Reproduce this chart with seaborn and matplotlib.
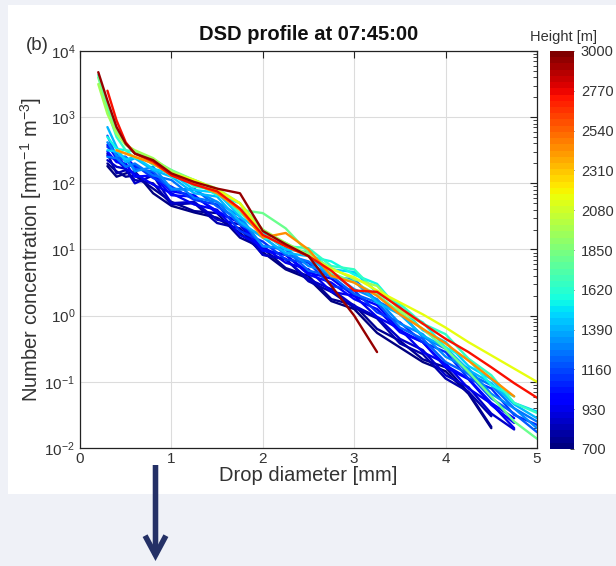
import numpy as np
import pandas as pd
import matplotlib
matplotlib.use("Agg")
import matplotlib.pyplot as plt
from matplotlib.patches import Rectangle, FancyArrowPatch
from matplotlib.colors import Normalize
from matplotlib.cm import ScalarMappable
from matplotlib.ticker import LogLocator
import seaborn as sns

NA = np.nan

# Drop diameter grid [mm]
diameter = [0.2, 0.3, 0.4, 0.5, 0.6, 0.8, 1.0, 1.25, 1.5, 1.75, 2.0, 2.25,
            2.5, 2.75, 3.0, 3.25, 3.5, 3.75, 4.0, 4.25, 4.5, 4.75, 5.0]

# log10 of number concentration [mm^-1 m^-3] for each height level [m]
n_2950 = [3.68, 3.25, 2.85, 2.60, 2.45, 2.35, 2.15, 2.02, 1.92, 1.85, 1.28, 1.08,
          0.90, 0.45, 0.00, -0.55, NA, NA, NA, NA, NA, NA, NA]
n_2750 = [NA, 3.40, 2.95, 2.62, 2.45, 2.33, 2.12, 1.98, 1.88, 1.62, 1.22, 1.05,
          0.90, 0.68, 0.38, 0.36, 0.12, -0.12, -0.35, -0.55, -0.78, -1.02, -1.24]
n_2450 = [NA, NA, 2.50, 2.45, 2.40, 2.30, 2.12, 2.00, 1.85, 1.60, 1.18, 1.25,
          1.00, 0.60, 0.50, 0.30, 0.02, -0.20, -0.42, -0.68, -0.95, -1.22, NA]
n_2150 = [NA, NA, 2.50, 2.45, 2.40, 2.32, 2.15, 2.05, 1.90, 1.70, 1.22, 1.05,
          0.90, 0.70, 0.58, 0.38, 0.20, 0.02, -0.18, -0.40, -0.60, -0.80, -1.00]
n_1950 = [3.50, 3.05, 2.75, 2.58, 2.50, 2.38, 2.18, 2.05, 1.92, 1.70, 1.30, 1.10,
          0.92, 0.72, 0.55, 0.45, 0.08, -0.12, NA, NA, NA, NA, NA]
n_1800 = [3.60, 3.15, 2.80, 2.60, 2.48, 2.36, 2.20, 2.05, 1.90, 1.60, 1.55, 1.32,
          0.95, 0.65, 0.50, 0.32, 0.05, -0.20, -0.50, -0.85, -1.22, -1.60, -1.86]
n_1650 = [3.64, 3.10, 2.70, 2.50, 2.48, 2.28, 2.20, 1.95, 1.90, 1.55, 1.30, 1.05,
          1.02, 0.75, 0.70, 0.35, 0.18, -0.12, -0.28, -0.65, -0.90, -1.32, -1.47]
n_1550 = [NA, 2.70, 2.52, 2.50, 2.38, 2.34, 2.10, 2.02, 1.82, 1.70, 1.18, 1.10,
          0.90, 0.82, 0.62, 0.48, 0.08, -0.10, -0.48, -0.66, -1.05, -1.22, NA]
n_1450 = [NA, 2.50, 2.48, 2.36, 2.40, 2.22, 2.15, 1.90, 1.86, 1.50, 1.25, 1.00,
          0.96, 0.70, 0.66, 0.35, 0.14, -0.22, -0.40, -0.76, -0.96, -1.32, -1.45]
n_1400 = [NA, 2.85, 2.55, 2.32, 2.38, 2.20, 2.10, 1.85, 1.80, 1.42, 1.18, 0.95,
          0.90, 0.60, 0.52, 0.20, 0.02, -0.30, -0.48, -0.82, -1.02, -1.34, -1.55]
n_1300 = [NA, 2.62, 2.42, 2.40, 2.18, 2.25, 1.92, 1.90, 1.72, 1.50, 1.05, 1.02,
          0.75, 0.65, 0.40, 0.25, -0.12, -0.28, -0.62, -0.80, -1.18, -1.40, -1.70]
n_1250 = [NA, 2.40, 2.38, 2.25, 2.30, 2.12, 2.05, 1.78, 1.72, 1.38, 1.20, 0.92,
          0.82, 0.58, 0.55, 0.22, 0.05, -0.32, -0.50, -0.88, -1.05, -1.40, -1.60]
n_1200 = [NA, 2.72, 2.40, 2.35, 2.22, 2.18, 1.90, 1.92, 1.65, 1.45, 1.05, 1.00,
          0.68, 0.60, 0.33, 0.20, -0.18, -0.35, -0.70, -0.88, -1.25, -1.48, -1.76]
n_1100 = [NA, 2.55, 2.45, 2.25, 2.28, 2.08, 1.95, 1.75, 1.68, 1.28, 1.12, 0.85,
          0.80, 0.45, 0.38, 0.05, -0.10, -0.40, -0.55, -0.95, -1.10, -1.50, -1.65]
n_1000 = [NA, 2.48, 2.32, 2.30, 2.10, 2.12, 1.82, 1.80, 1.58, 1.40, 0.98, 0.92,
          0.62, 0.50, 0.25, 0.10, -0.25, -0.40, -0.75, -0.95, -1.32, -1.55, NA]
n_970 = [NA, 2.58, 2.38, 2.40, 2.25, 2.15, 1.88, 1.82, 1.55, 1.42, 1.00, 0.92,
         0.65, 0.56, 0.30, 0.16, -0.22, -0.40, -0.78, -0.96, -1.35, -1.62, NA]
n_920 = [NA, 2.42, 2.35, 2.22, 2.15, 1.98, 1.85, 1.68, 1.60, 1.22, 1.05, 0.80,
         0.70, 0.36, 0.30, -0.02, -0.20, -0.55, -0.72, -1.10, -1.33, -1.70, NA]
n_850 = [NA, 2.35, 2.25, 2.22, 2.00, 2.12, 1.70, 1.72, 1.45, 1.38, 0.92, 0.85,
         0.55, 0.40, 0.15, -0.02, -0.35, -0.52, -0.90, -1.08, -1.48, -1.72, NA]
n_790 = [NA, 2.45, 2.15, 2.20, 2.05, 2.00, 1.68, 1.70, 1.40, 1.32, 0.92, 0.86,
         0.52, 0.36, 0.12, -0.04, -0.42, -0.58, -0.95, -1.15, -1.52, NA, NA]
n_740 = [NA, 2.30, 2.18, 2.10, 2.12, 1.92, 1.72, 1.58, 1.55, 1.18, 1.02, 0.72,
         0.60, 0.25, 0.16, -0.20, -0.38, -0.66, -0.78, -1.16, -1.68, NA, NA]
n_700 = [NA, 2.26, 2.10, 2.15, 2.18, 1.85, 1.66, 1.56, 1.48, 1.25, 0.96, 0.70,
         0.56, 0.22, 0.10, -0.26, -0.48, -0.70, -0.84, -1.18, -1.70, NA, NA]

heights = [2950, 2750, 2450, 2150, 1950, 1800, 1650, 1550, 1450, 1400, 1300,
           1250, 1200, 1100, 1000, 970, 920, 850, 790, 740, 700]
profiles = [n_2950, n_2750, n_2450, n_2150, n_1950, n_1800, n_1650, n_1550,
            n_1450, n_1400, n_1300, n_1250, n_1200, n_1100, n_1000, n_970,
            n_920, n_850, n_790, n_740, n_700]

cbar_ticks = [700, 930, 1160, 1390, 1620, 1850, 2080, 2310, 2540, 2770, 3000]

rows = []
for h, prof in zip(heights, profiles):
    for d, v in zip(diameter, prof):
        if not np.isnan(v):
            rows.append({"diameter": d, "conc": 10.0 ** v, "height": h})
df = pd.DataFrame(rows)

sns.set_theme(style="white")
plt.rcParams["font.family"] = ["Liberation Sans", "DejaVu Sans"]
plt.rcParams["mathtext.fontset"] = "custom"
plt.rcParams["mathtext.rm"] = "Liberation Sans"
plt.rcParams["mathtext.it"] = "Liberation Sans:italic"
plt.rcParams["mathtext.default"] = "regular"

W, H = 616, 566
fig = plt.figure(figsize=(W / 100, H / 100), dpi=100, facecolor="#eff1f7")

# white panel behind the plot
fig.add_artist(Rectangle((8 / W, 1 - 494 / H), (W - 8) / W, (494 - 5) / H,
                         transform=fig.transFigure, facecolor="white",
                         edgecolor="none", zorder=-10))

jet = plt.get_cmap("jet")
ax = fig.add_axes([80 / W, 1 - 448 / H, (537 - 80) / W, (448 - 51) / H])
norm = Normalize(vmin=700, vmax=3000)
sns.lineplot(data=df, x="diameter", y="conc", hue="height", units="height",
             estimator=None, palette=jet, hue_norm=norm, legend=False,
             linewidth=1.7, sort=False, ax=ax)

ax.set_yscale("log")
ax.set_xlim(0, 5)
ax.set_ylim(1e-2, 1e4)
ax.set_xticks([0, 1, 2, 3, 4, 5])
ax.yaxis.set_major_locator(LogLocator(base=10, numticks=10))
ax.yaxis.set_minor_locator(LogLocator(base=10, subs=np.arange(2, 10), numticks=20))
ax.grid(True, which="major", color="#dcdcdc", linewidth=0.8)
ax.set_axisbelow(True)
for sp in ax.spines.values():
    sp.set_color("#222222")
    sp.set_linewidth(0.9)
ax.tick_params(which="both", direction="in", top=True, right=True,
               colors="#222222", labelcolor="#333333", labelsize=11)
ax.tick_params(which="major", length=5, width=0.8)
ax.tick_params(which="minor", length=3, width=0.6)
ax.tick_params(axis="x", pad=3)

ax.set_xlabel("Drop diameter [mm]", fontsize=14.5, color="#333333", labelpad=0)
ax.set_ylabel("Number concentration [mm$^{-1}$ m$^{-3}$]", fontsize=14.5,
              color="#333333", labelpad=0)

fig.text(308.5 / W, 1 - 34.5 / H, "DSD profile at 07:45:00", ha="center",
         va="center", fontsize=14.5, fontweight="bold", color="#111111")
fig.text(26 / W, 1 - 46 / H, "(b)", ha="left", va="center", fontsize=13.5,
         color="#333333")

# colour bar for height
cax = fig.add_axes([550 / W, 1 - 449 / H, 24 / W, (449 - 51) / H])
sm = ScalarMappable(norm=norm, cmap=plt.get_cmap("jet", 64))
cb = fig.colorbar(sm, cax=cax, ticks=cbar_ticks)
cb.outline.set_visible(False)
cax.tick_params(direction="in", length=3, width=0.6, colors="#333333",
                labelsize=10.5, pad=5)
fig.text(563 / W, 1 - 37 / H, "Height [m]", ha="center", va="center",
         fontsize=10.5, color="#333333")

# downward arrow below the panel
fig.add_artist(FancyArrowPatch((155.5 / W, 1 - 465 / H), (155.5 / W, 1 - 561 / H),
                               transform=fig.transFigure,
                               arrowstyle="->,head_length=14,head_width=7.5",
                               mutation_scale=1, linewidth=4, color="#243066",
                               shrinkA=0, shrinkB=0, capstyle="butt",
                               joinstyle="miter"))

fig.savefig("out.png", dpi=100, facecolor=fig.get_facecolor())
